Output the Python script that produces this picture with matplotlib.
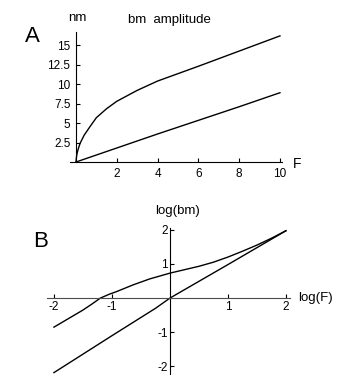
import matplotlib.pyplot as plt

plt.rcParams['font.family'] = ['Liberation Sans', 'DejaVu Sans']
plt.rcParams['axes.unicode_minus'] = False

# panel A: bm amplitude (nm) vs force F
force_up = [0, 0.02, 0.05, 0.1, 0.2, 0.4, 0.7, 1.0, 1.5, 2.0, 3.0, 4.0, 6.0, 8.0, 10.0]
amp_up = [0, 0.6, 1.1, 1.6, 2.4, 3.45, 4.6, 5.7, 6.85, 7.8, 9.2, 10.4, 12.3, 14.25, 16.2]
force_lo = [0, 2, 4, 6, 8, 10]
amp_lo = [0, 1.8, 3.6, 5.35, 7.1, 8.9]
a_xticks = [2, 4, 6, 8, 10]
a_yticks = [2.5, 5, 7.5, 10, 12.5, 15]
a_ylabels = ['2.5', '5', '7.5', '10', '12.5', '15']

# panel B: log(bm) vs log(F)
logf_up = [-2, -1.75, -1.5, -1.35, -1.2, -1.05, -0.92, -0.63, -0.35, 0, 0.25, 0.5, 0.75, 1.0, 1.25, 1.5, 1.75, 2.0]
logbm_up = [-0.85, -0.6, -0.35, -0.18, 0, 0.11, 0.19, 0.39, 0.56, 0.73, 0.83, 0.93, 1.05, 1.2, 1.37, 1.55, 1.75, 1.97]
logf_lo = [-2, -1, -0.25, 0, 1, 2]
logbm_lo = [-2.18, -1.1, -0.3, 0, 0.98, 1.97]
b_xticks = [-2, -1, 1, 2]
b_yticks = [-2, -1, 1, 2]

W, H = 338, 375
fig = plt.figure(figsize=(W / 100, H / 100), dpi=100)

# ---- A ----
axa = fig.add_axes([69.9 / W, 1 - 162 / H, 212.1 / W, 130 / H])
axa.plot(force_up, amp_up, color='black', lw=1.0)
axa.plot(force_lo, amp_lo, color='black', lw=1.0)
axa.set_xlim(-0.3, 10.1)
axa.set_ylim(0, 16.7)
axa.spines['left'].set_position(('data', 0))
axa.spines['top'].set_visible(False)
axa.spines['right'].set_visible(False)
axa.set_xticks(a_xticks)
axa.set_yticks(a_yticks)
axa.set_yticklabels(a_ylabels)
axa.tick_params(direction='in', length=3, width=0.8, labelsize=8.5, pad=4)
axa.tick_params(axis='y', pad=4)
fig.text(25 / W, 1 - 36 / H, 'A', fontsize=16, va='center', ha='left')
fig.text(77 / W, 1 - 18 / H, 'nm', fontsize=9.5, va='center', ha='center')
fig.text(169 / W, 1 - 20 / H, 'bm  amplitude', fontsize=9.5, va='center', ha='center')
fig.text(293 / W, 1 - 164 / H, 'F', fontsize=10, va='center', ha='left')

# ---- B ----
axb = fig.add_axes([47 / W, 0, 243 / W, 147 / H])
axb.plot(logf_up, logbm_up, color='black', lw=1.0)
axb.plot(logf_lo, logbm_lo, color='black', lw=1.0)
axb.set_xlim(-2.12, 2.07)
axb.set_ylim(-2.25, 2.05)
axb.spines['left'].set_position(('data', 0))
axb.spines['bottom'].set_position(('data', 0))
axb.spines['bottom'].set_color('0.3')
axb.spines['bottom'].set_linestyle((0, (1.5, 0.8)))
axb.spines['top'].set_visible(False)
axb.spines['right'].set_visible(False)
axb.set_xticks(b_xticks)
axb.set_yticks(b_yticks)
axb.tick_params(direction='in', length=3, width=0.8, labelsize=8.5)
axb.tick_params(axis='x', pad=2)
axb.tick_params(axis='y', pad=1.5)
fig.text(33 / W, 1 - 241 / H, 'B', fontsize=16, va='center', ha='left')
fig.text(178 / W, 1 - 211 / H, 'log(bm)', fontsize=9.5, va='center', ha='center')
fig.text(298 / W, 1 - 298 / H, 'log(F)', fontsize=9.5, va='center', ha='left')

fig.savefig('out.png', dpi=100)
